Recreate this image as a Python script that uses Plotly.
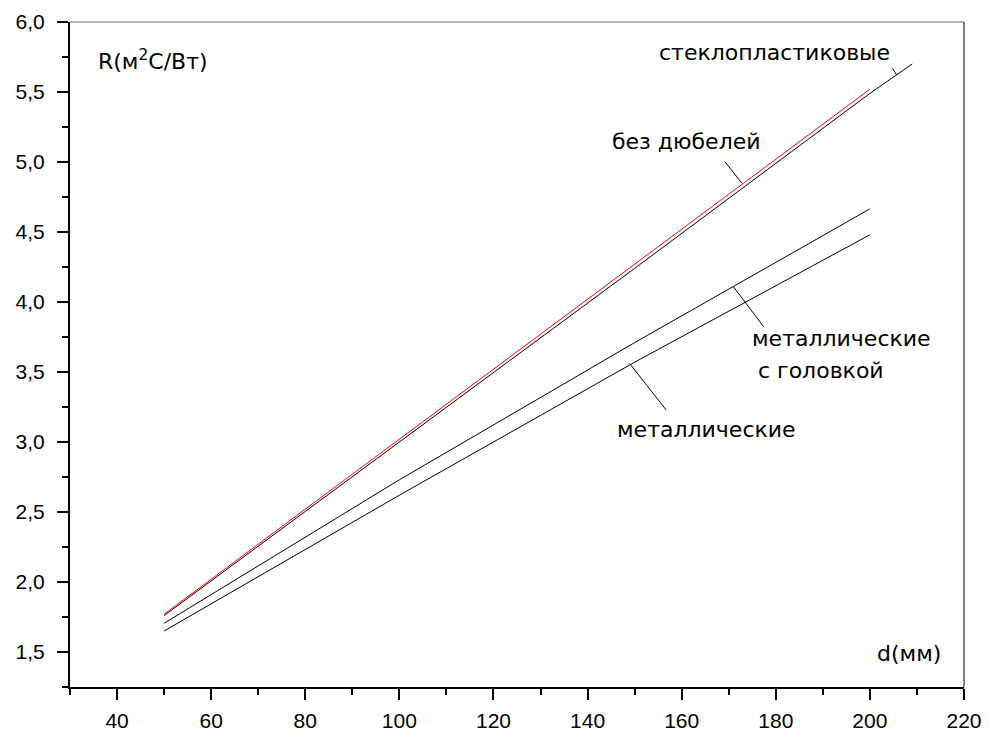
import plotly.graph_objects as go

# ---- data ----
d_no_dowels = [50, 100, 150, 200]
R_no_dowels = [1.77, 3.02, 4.27, 5.52]

d_glass = [50, 100, 150, 200, 209]
R_glass = [1.76, 3.00, 4.24, 5.49, 5.70]

d_metal_head = [50, 100, 150, 200]
R_metal_head = [1.705, 2.73, 3.71, 4.665]

d_metal = [50, 100, 150, 200]
R_metal = [1.65, 2.62, 3.57, 4.48]

x_ticks = [40, 60, 80, 100, 120, 140, 160, 180, 200, 220]
y_ticks = [1.5, 2.0, 2.5, 3.0, 3.5, 4.0, 4.5, 5.0, 5.5, 6.0]

# labels: (text, x, y) in data units
labels = [
    ("стеклопластиковые", 179.8, 5.78),
    ("без дюбелей", 161.0, 5.145),
    ("металлические", 194.0, 3.741),
    ("с головкой", 189.6, 3.514),
    ("металлические", 165.3, 3.091),
]
# leader lines: (x0, y0, x1, y1)
leaders = [
    (204.8, 5.669, 205.7, 5.621),
    (169.2, 5.002, 172.8, 4.848),
    (171.0, 4.109, 177.4, 3.824),
    (148.9, 3.562, 156.7, 3.229),
]

fig = go.Figure()
fig.add_trace(go.Scatter(x=d_glass, y=R_glass, mode="lines",
                         line=dict(color="#000000", width=1), name="стеклопластиковые"))
fig.add_trace(go.Scatter(x=d_metal_head, y=R_metal_head, mode="lines",
                         line=dict(color="#000000", width=1), name="металлические с головкой"))
fig.add_trace(go.Scatter(x=d_metal, y=R_metal, mode="lines",
                         line=dict(color="#000000", width=1), name="металлические"))
fig.add_trace(go.Scatter(x=d_no_dowels, y=R_no_dowels, mode="lines",
                         line=dict(color="#ff0000", width=1), name="без дюбелей"))

label_font = dict(family="DejaVu Sans", size=22, color="#000000")
for text, x, y in labels:
    fig.add_annotation(x=x, y=y, text=text, showarrow=False,
                       xanchor="center", yanchor="middle", font=label_font)

fig.add_annotation(x=35.5, y=5.729, text="R(м<sup>2</sup>C/Вт)", showarrow=False,
                   xanchor="left", yanchor="middle", font=label_font)
fig.add_annotation(x=208.3, y=1.491, text="d(мм)", showarrow=False,
                   xanchor="center", yanchor="middle", font=label_font)

for x0, y0, x1, y1 in leaders:
    fig.add_shape(type="line", x0=x0, y0=y0, x1=x1, y1=y1, xref="x", yref="y",
                  line=dict(color="#000000", width=1))

# top & right frame lines
fig.add_shape(type="line", xref="paper", yref="paper", x0=0, y0=1, x1=1, y1=1,
              line=dict(color="#666666", width=1))
fig.add_shape(type="line", xref="paper", yref="paper", x0=1, y0=0, x1=1, y1=1,
              line=dict(color="#000000", width=1))

tick_font = dict(family="Liberation Sans", size=21, color="#000000")
fig.update_xaxes(range=[30, 220], tickvals=x_ticks, ticktext=[str(v) for v in x_ticks],
                 showgrid=False, zeroline=False, showline=True, linecolor="#000000",
                 linewidth=2, ticks="outside", ticklen=11, tickwidth=2, tickcolor="#000000",
                 tickfont=tick_font, ticklabelstandoff=3, automargin=False,
                 minor=dict(dtick=10, tick0=30, ticks="outside", ticklen=6, tickwidth=2,
                            tickcolor="#000000", showgrid=False))
fig.update_yaxes(range=[1.25, 6.0], tickvals=y_ticks,
                 ticktext=[f"{v:.1f}".replace(".", ",") for v in y_ticks],
                 showgrid=False, zeroline=False, showline=True, linecolor="#000000",
                 linewidth=2, ticks="outside", ticklen=11, tickwidth=2, tickcolor="#000000",
                 tickfont=tick_font, ticklabelstandoff=8, automargin=False,
                 minor=dict(dtick=0.25, tick0=1.25, ticks="outside", ticklen=6, tickwidth=2,
                            tickcolor="#000000", showgrid=False))

fig.update_layout(width=989, height=734, showlegend=False,
                  paper_bgcolor="#ffffff", plot_bgcolor="#ffffff",
                  margin=dict(l=70, r=25, t=22, b=47))

fig.write_html("out.html", config={"displayModeBar": False},
               post_script="document.body.style.margin='0px';document.body.style.overflow='hidden';")
